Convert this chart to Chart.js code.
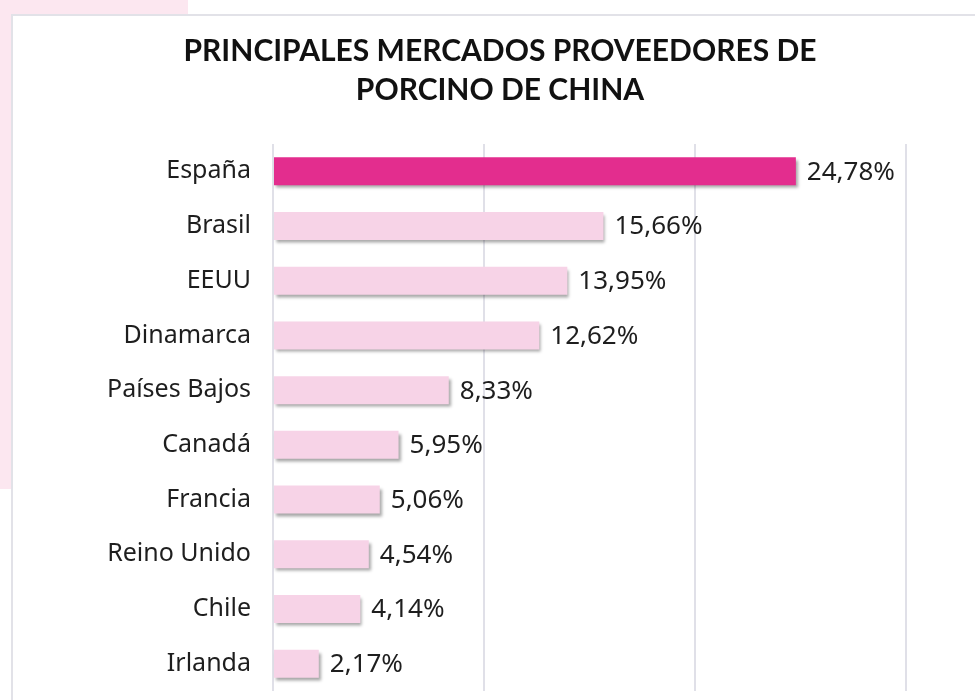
<!DOCTYPE html>
<html>
<head>
<meta charset="utf-8">
<script src="https://cdn.jsdelivr.net/npm/chart.js@4"></script>
<style>
    body { margin: 0; width: 975px; height: 700px; background: #ffffff; position: relative; overflow: hidden; }
    #pink-top { position: absolute; left: 0; top: 0; width: 188px; height: 16px; background: #fce7f0; }
    #pink-left { position: absolute; left: 0; top: 0; width: 11px; height: 489px; background: #fce7f0; }
    #card { position: absolute; left: 11px; top: 14px; width: 980px; height: 700px; background: #ffffff; border: 2px solid #e2e2e8; box-sizing: border-box; }
    #chart { position: absolute; left: 0; top: 0; }
</style>
</head>
<body>
<div id="pink-top"></div>
<div id="pink-left"></div>
<div id="card"></div>
<canvas id="chart" width="975" height="700"></canvas>
<script>
const categories = ["España", "Brasil", "EEUU", "Dinamarca", "Países Bajos", "Canadá", "Francia", "Reino Unido", "Chile", "Irlanda"];
const shares = [24.78, 15.66, 13.95, 12.62, 8.33, 5.95, 5.06, 4.54, 4.14, 2.17];
const title_lines = ["PRINCIPALES MERCADOS PROVEEDORES DE", "PORCINO DE CHINA"];
const x_ticks = [0, 10, 20, 30];

const fmt = (v) => v.toFixed(2).replace(".", ",") + "%";

// Bar shadow + value labels
const barExtras = {
    id: "barExtras",
    beforeDatasetsDraw(chart) {
        const ctx = chart.ctx;
        ctx.save();
        ctx.shadowColor = "rgba(0, 0, 0, 0.35)";
        ctx.shadowBlur = 3;
        ctx.shadowOffsetX = 2;
        ctx.shadowOffsetY = 3;
    },
    afterDatasetsDraw(chart) {
        const ctx = chart.ctx;
        ctx.restore();
        ctx.save();
        ctx.font = "26px 'Noto Sans'";
        ctx.fillStyle = "#1e1e1e";
        ctx.textAlign = "left";
        ctx.textBaseline = "middle";
        chart.getDatasetMeta(0).data.forEach((bar, i) => {
            ctx.fillText(fmt(shares[i]), bar.x + 11, bar.y + 1);
        });
        ctx.restore();
    }
};

new Chart(document.getElementById("chart"), {
    type: "bar",
    data: {
        labels: categories,
        datasets: [{
            data: shares,
            backgroundColor: (c) => c.dataIndex === 0 ? "#e32d8e" : "#f7d3e7",
            categoryPercentage: 0.8,
            barPercentage: 0.64
        }]
    },
    options: {
        indexAxis: "y",
        responsive: false,
        animation: false,
        devicePixelRatio: 1,
        layout: { padding: { left: 94, right: 69, top: 32, bottom: 9 } },
        plugins: {
            legend: { display: false },
            tooltip: { enabled: false },
            title: {
                display: true,
                text: title_lines,
                color: "#111111",
                font: { family: "Lato", size: 30, weight: "bold", lineHeight: 1.3 },
                padding: { top: 0, bottom: 34 }
            }
        },
        scales: {
            x: {
                min: x_ticks[0],
                max: x_ticks[x_ticks.length - 1],
                afterBuildTicks: (axis) => { axis.ticks = x_ticks.map(v => ({ value: v })); },
                afterFit: (axis) => { axis.height = 0; },
                ticks: { display: false },
                grid: { color: "#e0e0e8", lineWidth: 2, drawTicks: false },
                border: { display: false }
            },
            y: {
                afterFit: (axis) => {
                    axis.width = 179;
                    axis.paddingTop = 0;
                    axis.paddingBottom = 0;
                },
                ticks: { color: "#1e1e1e", font: { family: "Noto Sans", size: 25 }, padding: 22 },
                grid: { display: false, drawTicks: false },
                border: { display: false }
            }
        }
    },
    plugins: [barExtras]
});
</script>
</body>
</html>
